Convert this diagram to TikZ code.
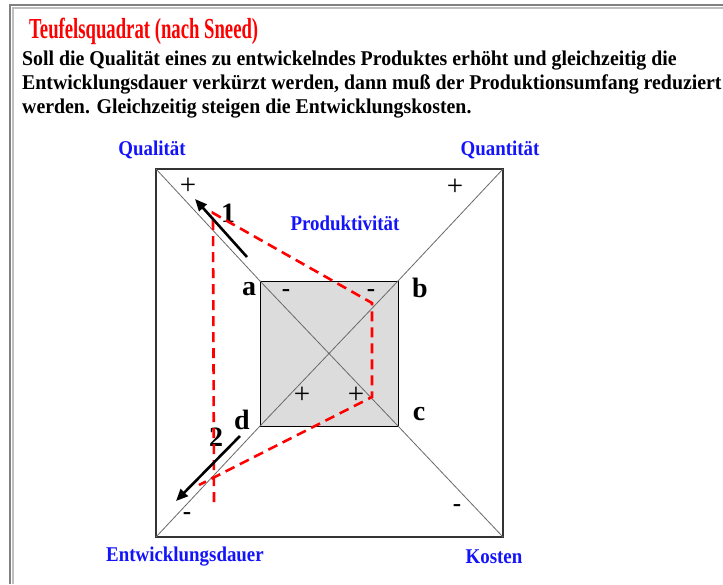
\documentclass[tikz,border=0pt]{standalone}
\usepackage{fontspec}
\setmainfont{Liberation Serif}
\usetikzlibrary{arrows.meta,positioning}
\definecolor{titlered}{RGB}{255,0,0}
\definecolor{labelblue}{RGB}{20,20,250}
\definecolor{boxgray}{RGB}{220,220,220}
\definecolor{diaggray}{RGB}{105,105,105}
\newcommand{\squeeze}[2][0.945]{\scalebox{#1}[1]{#2}}

\begin{document}
\begin{tikzpicture}[x=1pt, y=-1pt,
    headline/.style={anchor=base west, inner sep=0pt, font=\bfseries\fontsize{21}{24}\selectfont},
    axislabel/.style={text=labelblue, inner sep=0pt, font=\bfseries\fontsize{21}{22}\selectfont},
    plusminus/.style={inner sep=0pt, font=\fontsize{29}{29}\selectfont},
    minus/.style={inner sep=0pt, font=\bfseries\fontsize{25}{25}\selectfont},
    cornerlabel/.style={inner sep=0pt, font=\bfseries\fontsize{28}{28}\selectfont},
    diag/.style={draw=diaggray, line width=0.8pt},
    trace/.style={draw=red, line width=2.6pt, dash pattern=on 10pt off 6pt},
    move/.style={-{Triangle[length=12pt,width=10pt]}, line width=2.6pt}
]
\useasboundingbox (0,0) rectangle (723,584);
\fill[white] (0,0) rectangle (723,584);
% frame
\draw[gray, line width=1.3pt] (10,584) -- (10,5) -- (723,5);
\draw[gray!50, line width=1.3pt] (13,584) -- (13,8) -- (723,8);

% heading
\node[headline, text=titlered, font=\bfseries\fontsize{29}{32}\selectfont] (title) at (29,38) {\squeeze[0.645]{Teufelsquadrat (nach Sneed)}};
\node[headline] (line1) at (22,65) {\squeeze{Soll die Qualität eines zu entwickelndes Produktes erhöht und gleichzeitig die}};
\node[headline] (line2) at (22,89) {\squeeze{Entwicklungsdauer verkürzt werden, dann muß der Produktionsumfang reduziert}};
\node[headline] (line3) at (22,113) {\squeeze{werden. Gleichzeitig steigen die Entwicklungskosten.}};

% squares
\coordinate (tl) at (156,169);
\coordinate (tr) at (503,169);
\coordinate (br) at (503,537);
\coordinate (bl) at (156,537);
\coordinate (a) at (260,281);
\coordinate (b) at (398,281);
\coordinate (c) at (398,426);
\coordinate (d) at (260,426);
\draw[line width=1.2pt, black!80] (tl) rectangle (br);
\draw[fill=boxgray, line width=0.8pt] (a) rectangle (c);
\draw[diag] (tl) -- (a) (tr) -- (b) (br) -- (c) (bl) -- (d);
\draw[diag] (a) -- (c) (b) -- (d);

% labels
\node[axislabel] (quali) at (152,150) {\squeeze[0.9]{Qualität}};
\node[axislabel] (quanti) at (500,150) {\squeeze[0.9]{Quantität}};
\node[axislabel] (dauer) at (185,557) {\squeeze[0.9]{Entwicklungsdauer}};
\node[axislabel] (kosten) at (494,557) {\squeeze[0.9]{Kosten}};
\node[axislabel] (produkt) at (345,223) {\squeeze[0.9]{Produktivität}};

\node[plusminus] (p1) at (188,186) {+};
\node[plusminus] (p2) at (455,187) {+};
\node[minus] (m1) at (187,516) {-};
\node[minus] (m2) at (457,508) {-};
\node[minus] (m3) at (286,293) {-};
\node[minus] (m4) at (371,293) {-};
\node[plusminus] (p3) at (302,395) {+};
\node[plusminus] (p4) at (356,395) {+};

\node[cornerlabel] (la) at (249,289) {a};
\node[cornerlabel] (lb) at (420,288) {b};
\node[cornerlabel] (lc) at (419,414) {c};
\node[cornerlabel] (ld) at (242,420) {d};
\node[cornerlabel] (one) at (228,213) {1};
\node[cornerlabel] (two) at (216,437) {2};

% red trace
\coordinate (r1) at (214,502);
\coordinate (r2) at (213,213);
\coordinate (r3) at (372,303);
\coordinate (r4) at (372,397);
\coordinate (r5) at (199,485);
\draw[trace] (r1) -- (r2) -- (r3) -- (r4) -- (r5);

% moves
\coordinate (s1) at (247,257);
\coordinate (e1) at (195,199);
\coordinate (s2) at (240,436);
\coordinate (e2) at (176,501);
\draw[move] (s1) -- (e1);
\draw[move] (s2) -- (e2);
\end{tikzpicture}
\end{document}
